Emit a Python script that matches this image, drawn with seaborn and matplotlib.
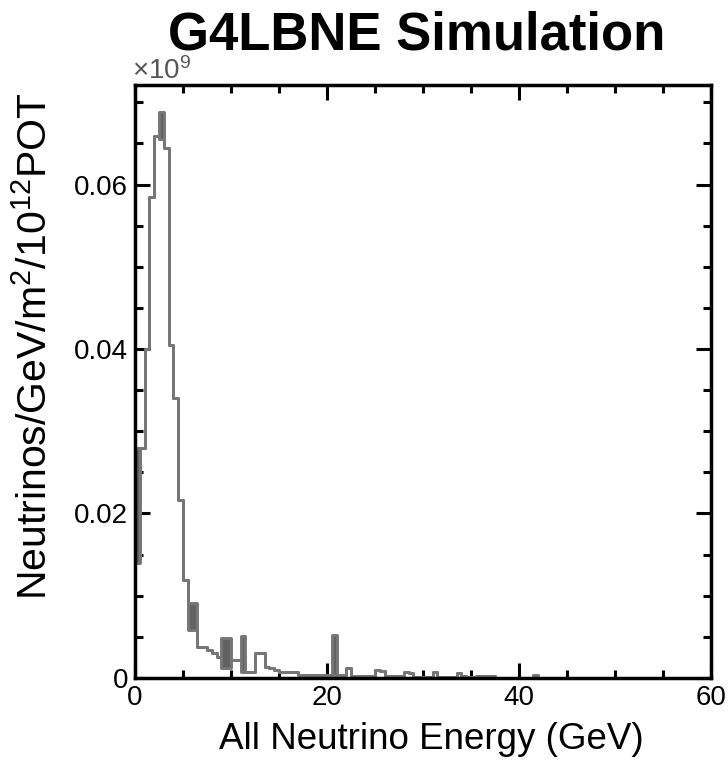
import numpy as np
import pandas as pd
import matplotlib
matplotlib.use("Agg")
import matplotlib.pyplot as plt
import seaborn as sns
from matplotlib.ticker import MultipleLocator

# 0.5 GeV bins, flux in units of 1e9 neutrinos/GeV/m^2/1e12 POT
bin_width = 0.5
# lower and upper envelope of each bin (they differ where the fine structure fills in)
flux_low = [
    0.014, 0.028, 0.040, 0.0585, 0.0659, 0.0655, 0.0644, 0.0405, 0.034, 0.0216,
    0.0119, 0.0058, 0.0058, 0.0038, 0.0038, 0.0034, 0.0030, 0.0026, 0.0012, 0.0012,
    0.0022, 0.0022, 0.0007, 0.0007, 0.0007, 0.0030, 0.0030, 0.0013, 0.0012, 0.0010,
    0.0007, 0.0007, 0.0007, 0.0007, 0.0004, 0.0004, 0.0004, 0.0004, 0.0004, 0.0004,
    0.0004, 0.0004, 0.0004, 0.0004, 0.0012, 0.0003, 0.0002, 0.0002, 0.0002, 0.0002,
    0.0010, 0.0008, 0.0002, 0.0002, 0.0002, 0.0002, 0.0007, 0.0006, 0.0001, 0.0001,
    0.0001, 0.0001, 0.0007, 0.0001, 0.0001, 0.0001, 0.0001, 0.0006, 0.0003, 0.0001,
    0.0001, 0.0003, 0.0003, 0.0003, 0.0003, 0.0, 0.0, 0.0, 0.0, 0.0,
    0.0, 0.0, 0.0, 0.0004, 0.0, 0.0, 0.0, 0.0, 0.0, 0.0,
]
flux_high = [
    0.028, 0.028, 0.040, 0.0585, 0.0659, 0.0688, 0.0644, 0.0405, 0.034, 0.0216,
    0.0119, 0.0091, 0.0091, 0.0038, 0.0038, 0.0034, 0.0030, 0.0026, 0.0049, 0.0049,
    0.0022, 0.0022, 0.0051, 0.0007, 0.0007, 0.0030, 0.0030, 0.0013, 0.0012, 0.0010,
    0.0007, 0.0007, 0.0007, 0.0007, 0.0004, 0.0004, 0.0004, 0.0004, 0.0004, 0.0004,
    0.0004, 0.0052, 0.0004, 0.0004, 0.0012, 0.0003, 0.0002, 0.0002, 0.0002, 0.0002,
    0.0010, 0.0008, 0.0002, 0.0002, 0.0002, 0.0002, 0.0007, 0.0006, 0.0001, 0.0001,
    0.0001, 0.0001, 0.0007, 0.0001, 0.0001, 0.0001, 0.0001, 0.0006, 0.0003, 0.0001,
    0.0001, 0.0003, 0.0003, 0.0003, 0.0003, 0.0, 0.0, 0.0, 0.0, 0.0,
    0.0, 0.0, 0.0, 0.0004, 0.0, 0.0, 0.0, 0.0, 0.0, 0.0,
]

x_ticks = [0, 20, 40, 60]
y_ticks = [0, 0.02, 0.04, 0.06]
y_tick_labels = ["0", "0.02", "0.04", "0.06"]

edges = np.arange(len(flux_low) + 1) * bin_width
df = pd.DataFrame({
    "energy": edges,
    "low": flux_low + [flux_low[-1]],
    "high": flux_high + [flux_high[-1]],
})

sns.set_style("ticks")
plt.rcParams["font.family"] = ["Liberation Sans", "DejaVu Sans"]
plt.rcParams["mathtext.default"] = "regular"
plt.rcParams["text.color"] = "black"
plt.rcParams["axes.labelcolor"] = "black"

fig = plt.figure(figsize=(7.28, 7.61), dpi=100)
ax = fig.add_axes([0.1854, 0.1091, 0.7913, 0.7792])

line_col = "#767676"
ax.fill_between(df["energy"], df["low"], df["high"], step="post", color="#626262", lw=0)
sns.lineplot(data=df, x="energy", y="low", drawstyle="steps-post", estimator=None,
             color=line_col, lw=2.1, ax=ax)
sns.lineplot(data=df, x="energy", y="high", drawstyle="steps-post", estimator=None,
             color=line_col, lw=2.1, ax=ax)

ax.set_xlim(0, 60)
ax.set_ylim(0, 0.0721)
ax.set_xticks(x_ticks)
ax.set_yticks(y_ticks)
ax.set_yticklabels(y_tick_labels)
ax.xaxis.set_minor_locator(MultipleLocator(5))
ax.yaxis.set_minor_locator(MultipleLocator(0.005))
ax.tick_params(which="both", direction="in", top=True, right=True, width=2.2,
               labelsize=20, colors="black")
ax.tick_params(which="major", length=11, pad=5)
ax.tick_params(which="minor", length=6)
for sp in ax.spines.values():
    sp.set_linewidth(2.5)
    sp.set_color("black")

ax.set_xlabel("All Neutrino Energy (GeV)", fontsize=26.5)
ax.set_ylabel("Neutrinos/GeV/m$^{2}$/10$^{12}$POT", fontsize=29.5)
ax.xaxis.set_label_coords(0.514, -0.075)
ax.yaxis.set_label_coords(-0.139, 0.56)
ax.text(-0.005, 1.0, r"$\times$10$^{9}$", transform=ax.transAxes, fontsize=20,
        color="#555555", ha="left", va="bottom")

fig.text(0.572, 0.953, "G4LBNE Simulation", fontsize=38, fontweight="bold",
         ha="center", va="center")

fig.savefig("out.png", dpi=100)
